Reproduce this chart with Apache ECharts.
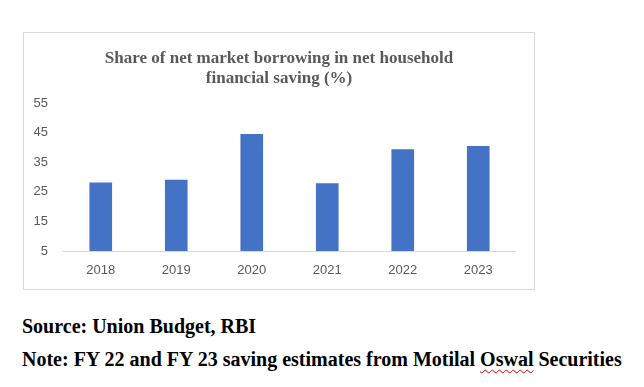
<!DOCTYPE html>
<html><head><meta charset="utf-8">
<script src="https://cdn.jsdelivr.net/npm/echarts@6/dist/echarts.min.js"></script>
<style>
html,body{margin:0;padding:0;background:#fff;width:644px;height:387px;overflow:hidden;}
#box{position:absolute;left:23px;top:32px;width:510px;height:256px;border:1px solid #d9d9d9;}
#chart{width:510px;height:256px;}
.txt{position:absolute;left:22px;font-family:"Liberation Serif","Times New Roman",serif;font-weight:bold;font-size:20px;line-height:24px;color:#000;white-space:nowrap;}
.sq{text-decoration:underline wavy #e00000;text-decoration-thickness:1px;text-underline-offset:3px;}
</style></head>
<body>
<div id="box"><div id="chart"></div></div>
<div class="txt" style="top:314px">Source: Union Budget, RBI</div>
<div class="txt" style="top:347px">Note: FY 22 and FY 23 saving estimates from Motilal <span class="sq">Oswal</span> Securities</div>
<script>
const titleLines = ["Share of net market borrowing in net household", "financial saving (%)"];
const categories = ["2018", "2019", "2020", "2021", "2022", "2023"];
const values = [28.1, 29.1, 44.5, 27.9, 39.4, 40.5];
const yMin = 5, yMax = 55, yStep = 10;

const chart = echarts.init(document.getElementById('chart'), null, {renderer:'canvas'});
chart.setOption({
  animation:false,
  title:{
    text: titleLines.join('\n'),
    left:'center', top:11,
    textStyle:{fontFamily:'"Liberation Serif","Times New Roman",serif',fontWeight:'bold',fontSize:17,color:'#595959',lineHeight:20}
  },
  grid:{left:39,right:18,top:70,bottom:38},
  xAxis:{
    type:'category', data:categories,
    axisLine:{lineStyle:{color:'#d9d9d9',width:1}},
    axisTick:{show:false},
    axisLabel:{color:'#595959',fontSize:13,fontFamily:'"Liberation Sans",Arial,sans-serif',margin:13}
  },
  yAxis:{
    type:'value', min:yMin, max:yMax, interval:yStep,
    axisLine:{show:false}, axisTick:{show:false},
    splitLine:{show:false},
    axisLabel:{color:'#595959',fontSize:13,fontFamily:'"Liberation Sans",Arial,sans-serif',margin:15}
  },
  series:[{type:'bar',data:values,barWidth:'30%',itemStyle:{color:'#4472c4'}}]
});
</script>
</body></html>
